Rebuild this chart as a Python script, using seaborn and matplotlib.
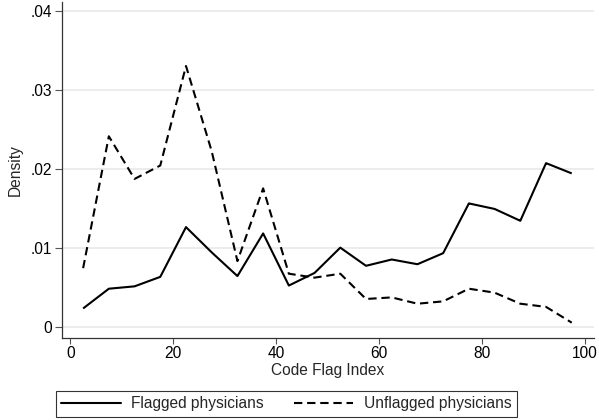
import matplotlib
matplotlib.use("Agg")
import matplotlib.pyplot as plt
from matplotlib.lines import Line2D
import seaborn as sns
import pandas as pd

# Bin midpoints of the Code Flag Index (5-point bins)
bin_mid = [2.5, 7.5, 12.5, 17.5, 22.5, 27.5, 32.5, 37.5, 42.5, 47.5,
           52.5, 57.5, 62.5, 67.5, 72.5, 77.5, 82.5, 87.5, 92.5, 97.5]

# Histogram densities for each group
flagged = [0.0024, 0.0049, 0.0052, 0.0064, 0.0127, 0.0095, 0.0065, 0.0119, 0.0053, 0.0069,
           0.0101, 0.0078, 0.0086, 0.0080, 0.0094, 0.0157, 0.0150, 0.0135, 0.0208, 0.0195]
unflagged = [0.0075, 0.0242, 0.0188, 0.0205, 0.0331, 0.0223, 0.0084, 0.0176, 0.0068, 0.0063,
             0.0068, 0.0036, 0.0038, 0.0030, 0.0033, 0.0049, 0.0044, 0.0030, 0.0026, 0.0006]

group_labels = ["Flagged physicians", "Unflagged physicians"]
x_ticks = [0, 20, 40, 60, 80, 100]
y_ticks = [0, 0.01, 0.02, 0.03, 0.04]
y_tick_labels = ["0", ".01", ".02", ".03", ".04"]

df = pd.DataFrame({
    "index": bin_mid * 2,
    "density": flagged + unflagged,
    "group": [group_labels[0]] * len(bin_mid) + [group_labels[1]] * len(bin_mid),
})

sns.set_theme(style="white")
plt.rcParams["font.family"] = ["Liberation Sans", "DejaVu Sans"]

FS = 11.2
DASH = (4.0, 2.3)

fig = plt.figure(figsize=(5.99, 4.20), dpi=100)
ax = fig.add_axes([0.1027, 0.1960, 0.9923 - 0.1027, 0.9952 - 0.1960])

# horizontal grid lines
for yv in y_ticks:
    ax.axhline(yv, color="#eaeaea", lw=1.3, zorder=0)

sns.lineplot(data=df, x="index", y="density", hue="group", style="group",
             palette=["black", "black"], dashes=[(1, 0), DASH],
             linewidth=1.5, ax=ax, legend=False)

ax.set_xlim(-1.7, 101.9)
ax.set_ylim(-0.0013, 0.0412)
ax.set_xticks(x_ticks)
ax.set_xticklabels([str(v) for v in x_ticks], fontsize=FS)
ax.set_yticks(y_ticks)
ax.set_yticklabels(y_tick_labels, fontsize=FS)
ax.tick_params(axis="both", direction="out", width=0.8, bottom=True, left=True,
               color="#555555", labelcolor="black")
ax.tick_params(axis="x", length=4.3, pad=1.5)
ax.tick_params(axis="y", length=5.0, pad=1.5)
ax.set_xlabel("Code Flag Index", fontsize=FS, labelpad=1.5)
ax.set_ylabel("Density", fontsize=FS, labelpad=6)

for side in ["top", "right"]:
    ax.spines[side].set_visible(False)
for side in ["left", "bottom"]:
    ax.spines[side].set_color("#333333")
    ax.spines[side].set_linewidth(0.9)

handles = [Line2D([], [], color="black", lw=1.5),
           Line2D([], [], color="black", lw=1.5, dashes=DASH)]
leg = fig.legend(handles, group_labels, loc="center", bbox_to_anchor=(0.478, 0.039),
                 ncol=2, frameon=True, fancybox=False, fontsize=FS,
                 handlelength=3.8, handletextpad=0.7, columnspacing=1.9,
                 borderpad=0.35, borderaxespad=0)
leg.get_frame().set_edgecolor("black")
leg.get_frame().set_linewidth(0.8)

fig.savefig("out.png", dpi=100)
